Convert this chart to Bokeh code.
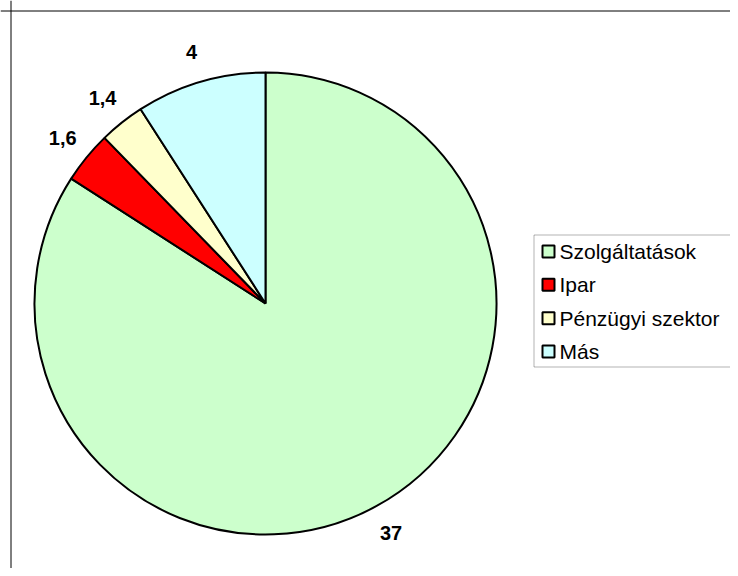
import numpy as np
from bokeh.plotting import figure
from bokeh.models import Range1d, Span, BoxAnnotation, ColumnDataSource
from bokeh.embed import file_html
from bokeh.resources import INLINE
from bokeh.core.properties import value

categories = ["Szolgáltatások", "Ipar", "Pénzügyi szektor", "Más"]
values = [37, 1.6, 1.4, 4]
labels = ["37", "1,6", "1,4", "4"]
colors = ["#CCFFCC", "#FF0000", "#FFFFCC", "#CCFFFF"]

W, H = 730, 568


def X(px):
    return px


def Y(py):
    return H - py


p = figure(width=W, height=H, output_backend="svg", toolbar_location=None,
           x_range=Range1d(0, W), y_range=Range1d(0, H), min_border=0,
           x_axis_location=None, y_axis_location=None)
p.grid.visible = False
p.outline_line_color = None
p.background_fill_color = "white"
p.border_fill_color = "white"

# outer chart border (extends beyond window)
p.add_layout(Span(location=X(10.5), dimension="height", line_color="black", line_width=1))
p.add_layout(Span(location=Y(10.5), dimension="width", line_color="black", line_width=1))

vals = np.array(values, dtype=float)
total = vals.sum()
cum = np.cumsum(vals)
start = np.pi / 2 - (cum - vals) / total * 2 * np.pi
end = np.pi / 2 - cum / total * 2 * np.pi
mid = (start + end) / 2

cx, cy, r, rl = X(265), Y(303), 231, 262

src = ColumnDataSource(dict(cat=categories, start=start, end=end, color=colors,
                            lx=cx + rl * np.cos(mid), ly=cy + rl * np.sin(mid), lab=labels))
p.wedge(x=cx, y=cy, radius=r, radius_units="screen", start_angle="start", end_angle="end",
        direction="clock", fill_color="color", line_color="black", line_width=2, source=src)
p.text(x="lx", y="ly", text="lab", source=src, text_font=value("Liberation Sans"),
       text_font_style="bold", text_font_size="20px", text_align="center",
       text_baseline="middle", text_color="black")

# legend
p.add_layout(BoxAnnotation(left=X(533.5), right=X(730.5), top=Y(234.5), bottom=Y(366.5),
                           fill_alpha=0, line_color="black", line_width=1))
n = len(categories)
rows = Y(301 + (np.arange(n) - (n - 1) / 2) * 33.3)
lsrc = ColumnDataSource(dict(y=rows, cat=categories, color=colors, x=[X(548)] * n, tx=[X(559)] * n))
p.rect(x="x", y="y", width=12, height=12, width_units="screen", height_units="screen",
       fill_color="color", line_color="black", line_width=2, source=lsrc)
p.text(x="tx", y="y", text="cat", source=lsrc, text_font=value("Liberation Sans"),
       text_font_size="21px", text_align="left", text_baseline="middle", text_color="black")

open("out.html", "w").write(file_html(p, INLINE))
